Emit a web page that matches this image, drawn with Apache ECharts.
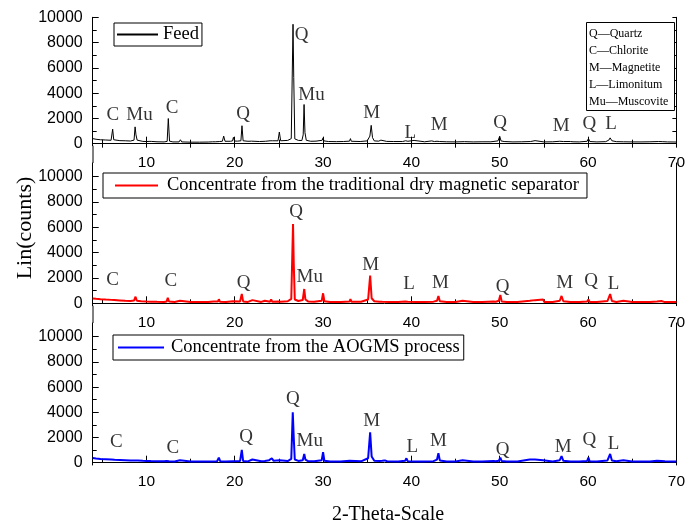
<!DOCTYPE html>
<html><head><meta charset="utf-8">
<script src="https://cdn.jsdelivr.net/npm/echarts@6/dist/echarts.min.js"></script>
<style>html,body{margin:0;padding:0;background:#fff}#c{width:688px;height:526px}</style>
</head><body><div id="c"></div>
<script>
// ---------------- data ----------------
const seriesNames = ['Feed', 'Concentrate from the traditional dry magnetic separator', 'Concentrate from the AOGMS process'];
const xTickLabels = [10, 20, 30, 40, 50, 60, 70];
const xMinorTicks = [5, 15, 25, 35, 45, 55, 65];
const yTickLabels = [0, 2000, 4000, 6000, 8000, 10000];
const yMinorTicks = [1000, 3000, 5000, 7000, 9000];
const xTitle = '2-Theta-Scale';
const yTitle = 'Lin(counts)';
const phaseKey = ['Q\u2014Quartz', 'C\u2014Chlorite', 'M\u2014Magnetite', 'L\u2014Limonitum', 'Mu\u2014Muscovite'];

// [2-theta, counts]
const feed = [[3.92,400],[4.3,350],[4.8,310],[5.4,290],[6.0,270],[6.08,300],[6.18,1150],[6.3,310],[6.4,260],[7.0,240],[7.6,230],[8.2,210],[8.6,280],[8.72,1330],[8.82,700],[8.95,280],[9.1,200],[9.6,180],[10.0,170],[10.3,180],[10.42,330],[10.55,180],[11.2,150],[12.0,140],[12.35,180],[12.48,1990],[12.62,200],[13.0,140],[13.7,140],[13.85,310],[14.0,140],[15.0,120],[16.0,120],[17.0,130],[17.5,150],[17.65,300],[17.8,150],[18.3,170],[18.6,190],[18.75,600],[18.9,190],[19.5,190],[19.75,220],[19.85,500],[19.98,210],[20.3,200],[20.7,230],[20.82,1420],[20.95,230],[21.5,190],[21.9,200],[22.0,300],[22.1,200],[22.8,170],[23.5,190],[23.6,290],[23.7,190],[24.0,230],[24.1,380],[24.25,230],[24.9,230],[25.05,920],[25.2,230],[26.0,260],[26.4,400],[26.6,9450],[26.68,5250],[26.8,380],[27.2,260],[27.6,250],[27.75,700],[27.85,3100],[27.95,880],[28.1,270],[28.6,190],[29.2,200],[29.9,270],[30.0,460],[30.1,220],[30.6,170],[31.5,160],[32.3,170],[33.0,200],[33.1,400],[33.2,190],[34.2,170],[35.0,220],[35.3,600],[35.45,1450],[35.6,480],[35.8,220],[36.3,200],[36.55,280],[36.7,190],[37.2,180],[38.0,170],[39.0,170],[39.35,230],[39.45,290],[39.6,190],[40.3,260],[40.45,170],[41.5,150],[42.3,220],[42.45,330],[42.6,170],[42.9,190],[43.05,320],[43.2,170],[44.0,150],[45.0,140],[46.0,160],[47.0,140],[48.0,150],[49.0,150],[49.8,220],[50.0,590],[50.15,220],[50.5,170],[51.5,140],[52.5,150],[53.5,170],[54.0,240],[54.2,160],[55.0,140],[56.0,150],[56.8,190],[57.0,270],[57.2,170],[58.0,170],[58.1,220],[58.3,150],[59.0,140],[59.9,190],[60.05,410],[60.2,170],[61.0,140],[62.0,160],[62.35,280],[62.5,460],[62.7,230],[63.2,160],[64.0,150],[65.0,140],[66.0,140],[67.0,150],[68.0,170],[68.2,210],[68.4,160],[69.0,140],[70.0,130]];

const dryConc = [[3.92,380],[4.3,350],[4.8,320],[5.4,290],[6.0,270],[6.1,300],[6.2,330],[6.35,260],[7.0,230],[7.6,200],[8.2,180],[8.6,220],[8.77,520],[8.92,200],[9.4,160],[10.0,140],[10.5,130],[11.2,120],[12.0,110],[12.3,150],[12.42,440],[12.56,140],[13.2,110],[13.8,200],[13.95,110],[15.0,100],[16.0,100],[17.0,100],[17.6,150],[17.75,110],[18.1,140],[18.2,320],[18.32,130],[19.0,110],[19.8,160],[19.95,110],[20.6,150],[20.8,740],[20.95,150],[21.5,110],[22.0,250],[22.12,110],[23.0,110],[23.4,200],[23.55,110],[24.0,130],[24.12,300],[24.25,120],[24.9,150],[25.07,300],[25.2,130],[26.0,160],[26.4,350],[26.6,6270],[26.68,3160],[26.8,300],[27.2,180],[27.7,260],[27.87,1130],[28.0,300],[28.3,150],[29.0,120],[29.85,200],[30.0,790],[30.15,160],[30.8,110],[32.0,110],[33.0,150],[33.1,340],[33.22,120],[34.3,120],[35.1,300],[35.33,2180],[35.5,400],[35.8,160],[36.4,130],[36.57,260],[36.7,120],[37.5,110],[38.5,100],[39.3,150],[39.44,300],[39.58,120],[40.5,100],[41.5,100],[42.5,130],[42.9,200],[43.06,580],[43.22,170],[44.0,110],[45.0,100],[45.8,200],[45.95,100],[47.0,100],[48.0,100],[49.3,140],[49.4,250],[49.55,120],[49.9,200],[50.07,650],[50.22,150],[50.8,110],[52.0,100],[53.4,200],[53.55,120],[54.0,250],[54.15,120],[54.9,300],[55.05,110],[56.0,110],[56.8,200],[57.0,580],[57.2,160],[58.0,110],[59.0,100],[59.9,140],[60.04,300],[60.18,110],[61.0,100],[62.2,180],[62.5,730],[62.7,180],[63.2,110],[64.0,200],[64.15,100],[65.0,100],[66.0,100],[67.0,110],[67.8,150],[68.0,250],[68.3,180],[68.6,110],[69.5,100],[70.0,100]];

const aogmsConc = [[3.92,380],[4.3,340],[4.8,300],[5.4,280],[6.0,260],[6.2,250],[6.4,240],[7.0,220],[7.6,200],[8.2,180],[8.6,180],[8.8,220],[9.0,170],[9.6,150],[10.0,140],[10.5,130],[11.2,120],[12.0,110],[12.3,130],[12.42,270],[12.56,120],[13.2,100],[13.8,200],[13.95,100],[15.0,90],[16.0,90],[17.0,100],[18.0,120],[18.2,400],[18.35,120],[19.0,100],[19.8,120],[20.6,130],[20.8,1010],[20.95,130],[21.5,100],[22.0,250],[22.12,100],[23.0,110],[23.4,140],[23.9,200],[24.2,350],[24.4,150],[25.07,200],[25.2,110],[26.0,130],[26.4,300],[26.57,4000],[26.68,2000],[26.8,250],[27.2,140],[27.7,200],[27.87,690],[28.0,250],[28.3,130],[29.0,110],[29.85,200],[30.0,830],[30.15,160],[30.8,100],[32.0,100],[33.0,150],[33.1,300],[33.22,110],[34.3,110],[35.1,350],[35.33,2410],[35.5,500],[35.8,150],[36.4,130],[36.57,250],[36.7,150],[37.0,180],[37.1,250],[37.25,120],[38.5,100],[39.3,150],[39.44,350],[39.58,120],[40.5,100],[41.5,100],[42.5,120],[42.9,250],[43.06,750],[43.22,180],[44.0,100],[45.0,100],[45.8,200],[45.95,100],[47.0,100],[48.0,100],[49.3,130],[49.4,200],[49.55,110],[49.9,150],[50.07,400],[50.22,130],[50.8,100],[52.0,100],[53.4,250],[53.55,120],[54.0,250],[54.15,110],[54.9,200],[55.05,100],[56.0,100],[56.8,200],[57.0,530],[57.2,150],[58.0,100],[59.0,100],[59.9,140],[60.04,400],[60.18,110],[61.0,100],[62.2,180],[62.5,690],[62.7,180],[63.2,110],[64.0,200],[64.15,100],[65.0,100],[66.0,100],[67.0,100],[67.8,150],[68.0,200],[68.3,130],[68.5,200],[68.7,110],[69.5,100],[70.0,100]];

// phase annotations: [label, 2-theta, counts]
const feedPhases = [['C',6.2,2270],['Mu',9.22,2270],['C',12.9,2820],['Q',20.96,2350],['Q',27.57,8590],['Mu',28.69,3850],['M',35.5,2430],['L',39.87,870],['M',43.15,1480],['Q',50.05,1610],['M',56.95,1400],['Q',60.14,1560],['L',62.6,1560]];
const dryPhases = [['C',6.16,1840],['C',12.76,1790],['Q',21.0,1630],['Q',26.94,7240],['Mu',28.5,2100],['M',35.4,3030],['L',39.74,1530],['M',43.3,1580],['Q',50.33,1260],['M',57.35,1580],['Q',60.34,1790],['L',62.9,1530]];
const aogmsPhases = [['C',6.6,1670],['C',13.0,1140],['Q',21.3,2060],['Q',26.57,5030],['Mu',28.5,1720],['M',35.5,3330],['L',40.1,1270],['M',43.06,1750],['Q',50.33,1010],['M',57.2,1270],['Q',60.15,1800],['L',62.9,1480]];

// ---------------- layout ----------------
const SANS = 'Liberation Sans';
const SERIF = 'Liberation Serif';
const X_MIN = 3.92, X_MAX = 70;
const panels = [
  {top: 17.3, height: 128.4, yMin: -160, yMax: 10000, data: feed, phases: feedPhases, color: '#000000', width: 1, box: true},
  {top: 163, height: 142.7, yMin: -190, yMax: 11080, data: dryConc, phases: dryPhases, color: '#ff0000', width: 2, box: false},
  {top: 323, height: 142, yMin: -183, yMax: 11087, data: aogmsConc, phases: aogmsPhases, color: '#0000ff', width: 2, box: false}
];

const grid = [], xAxis = [], yAxis = [], series = [];
const axisLineStyle = {show: true, lineStyle: {color: '#000', width: 1}};
const plain = v => String(v);
panels.forEach((p, i) => {
  grid.push({left: 92.7, width: 590.3, top: p.top, height: p.height, show: false});
  const xi = xAxis.length;
  xAxis.push({type: 'value', gridIndex: i, min: X_MIN, max: X_MAX, position: 'bottom',
    axisLine: axisLineStyle, splitLine: {show: false},
    axisTick: {show: true, inside: true, length: 7, customValues: xTickLabels, lineStyle: {color: '#000'}},
    axisLabel: {show: true, customValues: xTickLabels, formatter: plain, color: '#000', fontFamily: SANS, fontSize: 15.5, margin: 9}});
  xAxis.push({type: 'value', gridIndex: i, min: X_MIN, max: X_MAX, position: 'bottom',
    axisLine: {show: false}, splitLine: {show: false}, axisLabel: {show: false},
    axisTick: {show: true, inside: true, length: 4, customValues: xMinorTicks, lineStyle: {color: '#000'}}});
  if (p.box) {
    xAxis.push({type: 'value', gridIndex: i, min: X_MIN, max: X_MAX, position: 'top',
      axisLine: axisLineStyle, splitLine: {show: false}, axisLabel: {show: false},
      axisTick: {show: true, inside: true, length: 4, customValues: xMinorTicks.concat(xTickLabels), lineStyle: {color: '#000'}}});
  }
  const yi = yAxis.length;
  yAxis.push({type: 'value', gridIndex: i, min: p.yMin, max: p.yMax, position: 'left',
    axisLine: axisLineStyle, splitLine: {show: false},
    axisTick: {show: true, inside: true, length: 6, customValues: yTickLabels, lineStyle: {color: '#000'}},
    axisLabel: {show: true, customValues: yTickLabels, formatter: plain, color: '#000', fontFamily: SANS, fontSize: 16, margin: 10}});
  yAxis.push({type: 'value', gridIndex: i, min: p.yMin, max: p.yMax, position: 'left',
    axisLine: {show: false}, splitLine: {show: false}, axisLabel: {show: false},
    axisTick: {show: true, inside: true, length: 4, customValues: yMinorTicks, lineStyle: {color: '#000'}}});
  yAxis.push({type: 'value', gridIndex: i, min: p.yMin, max: p.yMax, position: 'right',
    axisLine: axisLineStyle, splitLine: {show: false}, axisLabel: {show: false},
    axisTick: {show: p.box, inside: true, length: 4, customValues: yTickLabels.concat(yMinorTicks), lineStyle: {color: '#000'}}});

  series.push({name: seriesNames[i], type: 'line', xAxisIndex: xi, yAxisIndex: yi, data: p.data,
    showSymbol: false, symbol: 'none', animation: false, z: 3,
    lineStyle: {color: p.color, width: p.width}, itemStyle: {color: p.color}});
  series.push({type: 'scatter', xAxisIndex: xi, yAxisIndex: yi, symbolSize: 0, animation: false, silent: true, z: 4,
    data: p.phases.map(d => ({value: [d[1], d[2]], name: d[0]})),
    label: {show: true, position: 'inside', formatter: q => q.name, color: '#000', fontFamily: SERIF, fontSize: 19}});
});

const legendBase = {orient: 'horizontal', icon: 'rect', itemHeight: 2, borderColor: '#000', borderWidth: 1,
  backgroundColor: '#fff', selectedMode: false};
const legendText = pad => ({fontFamily: SERIF, fontSize: 18.5, color: '#000', padding: [0, 0, 0, pad]});

const gaps = [[panels[0].top + panels[0].height, panels[1].top], [panels[1].top + panels[1].height, panels[2].top]];

const option = {
  animation: false,
  backgroundColor: '#fff',
  grid, xAxis, yAxis, series,
  legend: [
    Object.assign({}, legendBase, {left: 114, top: 23, data: [seriesNames[0]], itemWidth: 41, padding: [2, 3, 2, 3], textStyle: legendText(0)}),
    Object.assign({}, legendBase, {left: 103, top: 173, data: [seriesNames[1]], itemWidth: 43, padding: [3, 8, 3, 12], textStyle: legendText(4)}),
    Object.assign({}, legendBase, {left: 113, top: 335, data: [seriesNames[2]], itemWidth: 46, padding: [3, 4, 3, 5], textStyle: legendText(2)})
  ],
  graphic: [
    {type: 'rect', left: 586, top: 22, shape: {width: 88, height: 88}, style: {fill: '#fff', stroke: '#000', lineWidth: 1}, z: 10},
    {type: 'text', left: 589, top: 25, z: 11, style: {text: phaseKey.join('\n'), font: '12px "' + SERIF + '"', lineHeight: 17, fill: '#000'}},
    {type: 'text', x: 25, y: 228, rotation: Math.PI / 2, style: {text: yTitle, font: '22px "' + SERIF + '"', fill: '#000', align: 'center', verticalAlign: 'middle'}},
    {type: 'text', x: 388, y: 515, style: {text: xTitle, font: '20px "' + SERIF + '"', fill: '#000', align: 'center', verticalAlign: 'middle'}}
  ].concat(gaps.map(g => ({type: 'line', shape: {x1: 93, y1: g[0], x2: 93, y2: g[1]}, style: {stroke: '#000', lineWidth: 1}})))
};
const chart = echarts.init(document.getElementById('c'), null, {renderer: 'canvas'});
chart.setOption(option);
</script>
</body></html>
